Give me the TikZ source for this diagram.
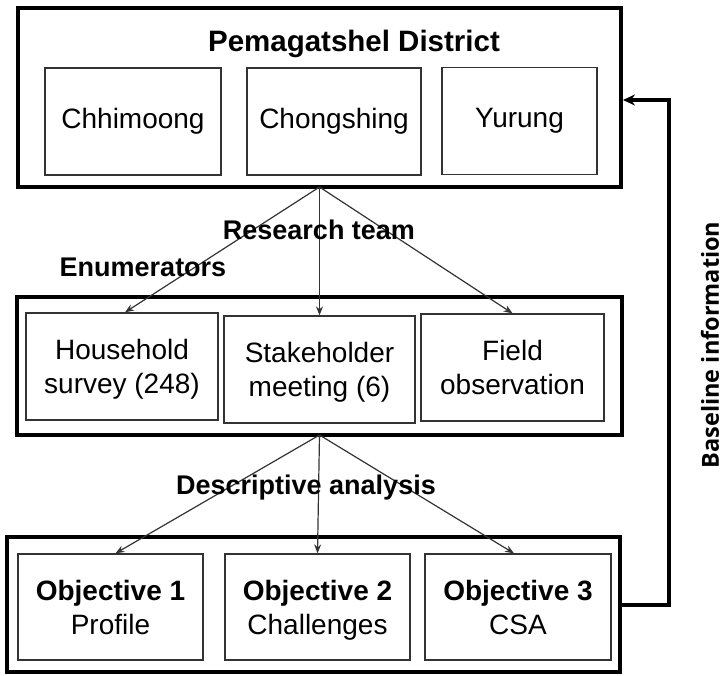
\documentclass[tikz,border=0pt]{standalone}
\usepackage{fontspec}
\setmainfont{Liberation Sans}
\newfontfamily\blfont{Open Sans}
\usetikzlibrary{arrows.meta,calc}
\begin{document}
\begin{tikzpicture}[x=1pt,y=-1pt,
  outerbox/.style={draw=black,line width=4pt,rectangle,inner sep=0pt},
  innerbox/.style={draw=black!80,line width=1.3pt,rectangle,inner sep=0pt,minimum height=107pt,align=center,font=\fontsize{28}{34}\selectfont},
  lbl/.style={font=\fontsize{27}{30}\selectfont\bfseries,inner sep=0pt},
  conn/.style={draw=black!80,line width=1.2pt,-{Stealth[length=9pt,width=7pt]}},
  fb/.style={draw=black,line width=3.2pt,-{Stealth[length=12pt,width=11pt]}}
]
\useasboundingbox (0,0) rectangle (723,675);
% top
\node[outerbox,minimum width=603pt,minimum height=179pt] (top) at (319.5,97.5) {};
\node[lbl,font=\fontsize{29.5}{32}\selectfont\bfseries] (title) at (354,44) {Pemagatshel District};
\node[innerbox,minimum width=176pt] (c1) at (133,121.5) {\raisebox{-3pt}{Chhimoong}};
\node[innerbox,minimum width=174pt] (c2) at (334,121.5) {\raisebox{-3pt}{Chongshing}};
\node[innerbox,minimum width=155pt] (c3) at (519.5,121) {\raisebox{-3pt}{Yurung}};
% middle
\node[outerbox,minimum width=605pt,minimum height=138pt] (mid) at (319.5,366) {};
\node[innerbox,minimum width=192pt,text depth=-4pt] (hh) at (122,366.5) {Household\\survey (248)};
\node[innerbox,minimum width=191pt,text depth=-4pt] (sm) at (319.5,369.5) {Stakeholder\\meeting (6)};
\node[innerbox,minimum width=183pt,text depth=-4pt] (fo) at (512.5,367.5) {Field\\observation};
% bottom
\node[outerbox,minimum width=613pt,minimum height=135pt] (bot) at (313.5,604.5) {};
\node[innerbox,minimum width=185pt,minimum height=106pt,text depth=-3pt] (o1) at (110.5,607) {\textbf{Objective 1}\\Profile};
\node[innerbox,minimum width=185pt,minimum height=106pt,text depth=-3pt] (o2) at (317.5,607) {\textbf{Objective 2}\\Challenges};
\node[innerbox,minimum width=186pt,minimum height=106pt,text depth=-3pt] (o3) at (518,607) {\textbf{Objective 3}\\CSA};
% connectors
\coordinate (ts) at (319.5,187);
\coordinate (ms) at (319.5,435);
\draw[conn] (ts) -- ($(hh.north)+(3,0)$);
\draw[conn] (ts) -- (sm.north);
\draw[conn] (ts) -- (fo.north);
\draw[conn] (ms) -- ($(o1.north)+(5,0)$);
\draw[conn] (ms) -- (o2.north);
\draw[conn] (ms) -- ($(o3.north)+(-4,0)$);
% labels
\node[lbl] (rt) at (319,230) {Research team};
\node[lbl] (en) at (143,267) {Enumerators};
\node[lbl] (da) at (306,488) {Descriptive analysis};
% feedback
\coordinate (fb1) at (669,605);
\coordinate (fb2) at (669,100);
\draw[fb] (bot.east |- fb1) -- (fb1) -- (fb2) -- (top.east |- fb2);
\node[rotate=90,font=\blfont\bfseries\fontsize{23.5}{26}\selectfont,inner sep=0pt] (bi) at (710,345) {Baseline information};
\end{tikzpicture}
\end{document}
